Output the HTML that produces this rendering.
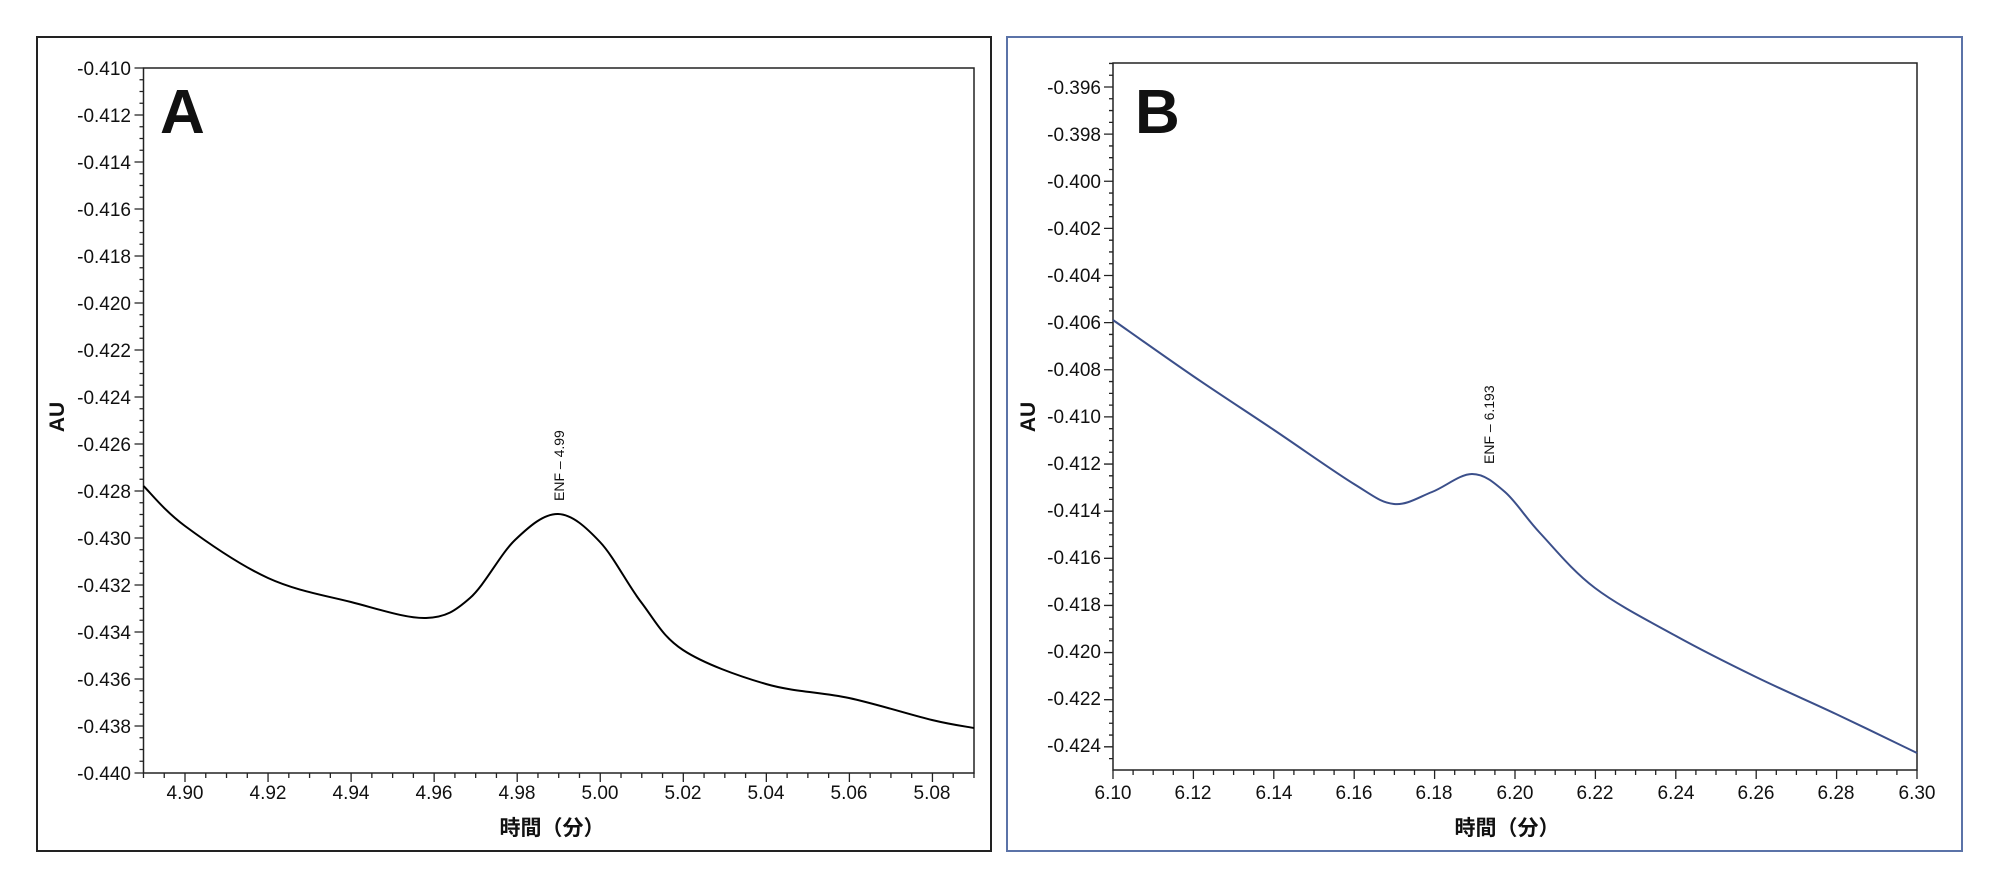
<!DOCTYPE html>
<html><head><meta charset="utf-8"><style>
html,body{margin:0;padding:0;background:#fff;}
svg{display:block;}
text{font-family:"Liberation Sans","Noto Sans CJK JP",sans-serif;fill:#111;}
.t{font-size:19px;}
.tb{font-size:21px;font-weight:bold;}
.big{font-size:62px;font-weight:bold;}
.ann{font-size:14px;}
</style></head><body>
<svg id="s" width="2000" height="895" viewBox="0 0 2000 895" xmlns="http://www.w3.org/2000/svg">
<rect x="37" y="37" width="954" height="814" fill="none" stroke="#222" stroke-width="2"/>
<rect x="1007" y="37" width="955" height="814" fill="none" stroke="#5b73a8" stroke-width="2"/>
<rect x="143.5" y="68" width="830.5" height="705" fill="none" stroke="#222" stroke-width="1.5"/>
<rect x="1113" y="63" width="804" height="707" fill="none" stroke="#222" stroke-width="1.5"/>
<g id="ticks" stroke="#222" stroke-width="1.3"></g>
<path id="ca" fill="none" stroke="#000" stroke-width="2"/>
<path id="cb" fill="none" stroke="#3b4f8a" stroke-width="2"/>
<text class="big" x="160" y="133">A</text>
<text class="big" x="1135" y="133">B</text>
<g class="t" text-anchor="end">
<text x="131" y="75">-0.410</text><text x="131" y="122">-0.412</text><text x="131" y="169">-0.414</text><text x="131" y="216">-0.416</text><text x="131" y="263">-0.418</text><text x="131" y="310">-0.420</text><text x="131" y="357">-0.422</text><text x="131" y="404">-0.424</text><text x="131" y="451">-0.426</text><text x="131" y="498">-0.428</text><text x="131" y="545">-0.430</text><text x="131" y="592">-0.432</text><text x="131" y="639">-0.434</text><text x="131" y="686">-0.436</text><text x="131" y="733">-0.438</text><text x="131" y="780">-0.440</text>
<text x="1101" y="94">-0.396</text><text x="1101" y="141">-0.398</text><text x="1101" y="188">-0.400</text><text x="1101" y="235">-0.402</text><text x="1101" y="282">-0.404</text><text x="1101" y="329">-0.406</text><text x="1101" y="376">-0.408</text><text x="1101" y="423">-0.410</text><text x="1101" y="470">-0.412</text><text x="1101" y="517">-0.414</text><text x="1101" y="564">-0.416</text><text x="1101" y="611">-0.418</text><text x="1101" y="658">-0.420</text><text x="1101" y="705">-0.422</text><text x="1101" y="752">-0.424</text>
</g>
<g class="t" text-anchor="middle">
<text x="185" y="799">4.90</text><text x="268" y="799">4.92</text><text x="351" y="799">4.94</text><text x="434" y="799">4.96</text><text x="517" y="799">4.98</text><text x="600" y="799">5.00</text><text x="683" y="799">5.02</text><text x="766" y="799">5.04</text><text x="849" y="799">5.06</text><text x="932" y="799">5.08</text>
<text x="1113" y="799">6.10</text><text x="1193" y="799">6.12</text><text x="1274" y="799">6.14</text><text x="1354" y="799">6.16</text><text x="1434" y="799">6.18</text><text x="1515" y="799">6.20</text><text x="1595" y="799">6.22</text><text x="1676" y="799">6.24</text><text x="1756" y="799">6.26</text><text x="1836" y="799">6.28</text><text x="1917" y="799">6.30</text>
</g>
<text class="tb" x="552" y="835" text-anchor="middle">時間（分）</text>
<text class="tb" x="1507" y="835" text-anchor="middle">時間（分）</text>
<text class="tb" transform="translate(64,417) rotate(-90)" text-anchor="middle">AU</text>
<text class="tb" transform="translate(1035,417) rotate(-90)" text-anchor="middle">AU</text>
<text class="ann" transform="translate(564,501) rotate(-90)">ENF – 4.99</text>
<text class="ann" transform="translate(1494,464) rotate(-90)">ENF – 6.193</text>
</svg>
<script>
var g=document.getElementById('ticks'),d='';
for(var i=0;i<=60;i++){var y=68+i*47/4;var L=(i%4==0)?9:4;d+='M'+(143.5-L)+' '+y+'H143.5';}
for(var i=-2;i<=60;i++){var y=87+i*47.13/4;if(y<63||y>770)continue;var L=(((i%4)+4)%4==0)?9:4;d+='M'+(1113-L)+' '+y+'H1113';}
for(var i=-4;i<=50;i++){var x=185+i*83.05/4;if(x<143||x>975)continue;var L=(((i%4)+4)%4==0)?9:5;d+='M'+x+' 773V'+(773+L);}
for(var i=0;i<=40;i++){var x=1113+i*80.4/4;var L=(i%4==0)?9:5;d+='M'+x+' 770V'+(770+L);}
var p=document.createElementNS('http://www.w3.org/2000/svg','path');p.setAttribute('d',d);g.appendChild(p);
function cr(pts){var s='M'+pts[0][0]+' '+pts[0][1];for(var i=0;i<pts.length-1;i++){var p0=pts[i-1]||pts[i],p1=pts[i],p2=pts[i+1],p3=pts[i+2]||p2;
var c1=[p1[0]+(p2[0]-p0[0])/6,p1[1]+(p2[1]-p0[1])/6],c2=[p2[0]-(p3[0]-p1[0])/6,p2[1]-(p3[1]-p1[1])/6];
s+='C'+c1[0]+' '+c1[1]+' '+c2[0]+' '+c2[1]+' '+p2[0]+' '+p2[1];}return s;}
document.getElementById('ca').setAttribute('d',cr([[143.5,486],[185,526],[268,578],[351,602],[426,618],[470,598],[515,540],[558,514],[600,542],[641,602],[683,650],[766,684],[849,698],[932,720],[974,728]]));
document.getElementById('cb').setAttribute('d',cr([[1113,320],[1193,376],[1274,430],[1354,484],[1394,504],[1432,492],[1472,474],[1505,492],[1540,533],[1595,588],[1676,636],[1756,677],[1836,714],[1917,753]]));
</script>
</body></html>
